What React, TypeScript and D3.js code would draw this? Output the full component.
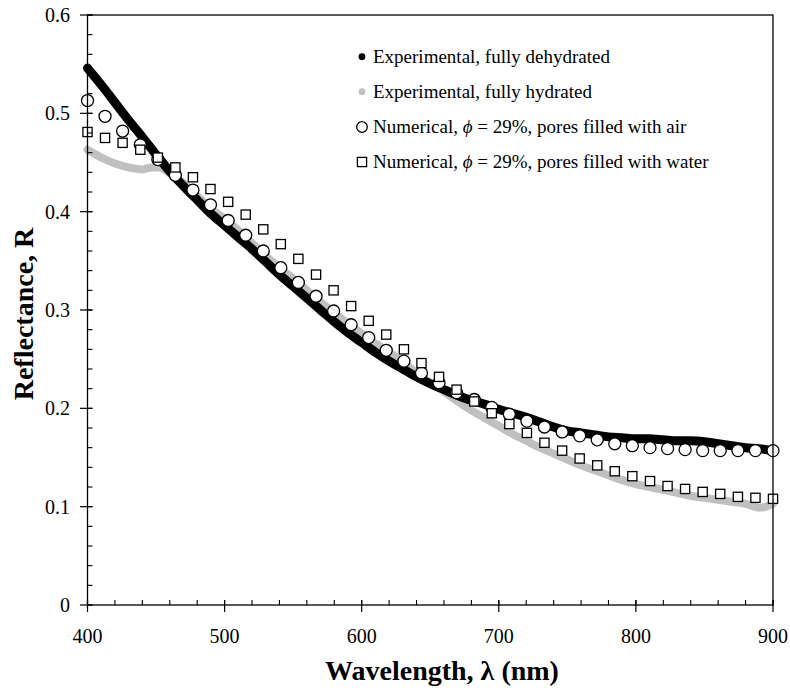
import React from "react";
import * as d3 from "d3";

// Experimental, fully dehydrated (wavelength nm, reflectance)
const dehydWl = [400, 410, 420, 430, 440, 450, 460, 470, 480, 490, 500, 510, 520, 530, 540, 550, 560, 570, 580, 590, 600, 610, 620, 630, 640, 650, 660, 670, 680, 690, 700, 710, 720, 730, 740, 750, 760, 770, 780, 790, 800, 810, 820, 830, 840, 850, 860, 870, 880, 890, 900];
const dehydR = [0.546, 0.529, 0.511, 0.493, 0.476, 0.458, 0.441, 0.426, 0.412, 0.398, 0.386, 0.374, 0.362, 0.349, 0.336, 0.324, 0.312, 0.300, 0.288, 0.277, 0.267, 0.257, 0.248, 0.240, 0.232, 0.225, 0.219, 0.213, 0.208, 0.204, 0.199, 0.195, 0.191, 0.186, 0.181, 0.177, 0.175, 0.173, 0.171, 0.170, 0.169, 0.169, 0.168, 0.167, 0.167, 0.166, 0.164, 0.162, 0.160, 0.159, 0.157];

// Experimental, fully hydrated
const hydWl = [400, 405, 410, 420, 430, 440, 447, 453, 458, 465, 470, 480, 490, 500, 510, 520, 530, 540, 550, 560, 570, 580, 590, 600, 610, 620, 630, 640, 650, 660, 670, 680, 690, 700, 710, 720, 730, 740, 750, 760, 770, 780, 790, 800, 810, 820, 830, 840, 850, 860, 870, 880, 890, 895, 900];
const hydR = [0.463, 0.459, 0.455, 0.449, 0.445, 0.443, 0.445, 0.445, 0.441, 0.434, 0.429, 0.416, 0.403, 0.393, 0.381, 0.368, 0.355, 0.343, 0.332, 0.320, 0.308, 0.297, 0.286, 0.276, 0.266, 0.257, 0.247, 0.236, 0.226, 0.217, 0.207, 0.198, 0.190, 0.182, 0.174, 0.167, 0.160, 0.154, 0.148, 0.142, 0.137, 0.132, 0.127, 0.123, 0.120, 0.117, 0.114, 0.111, 0.109, 0.107, 0.105, 0.103, 0.099, 0.100, 0.103];

// Numerical wavelengths
const numWl = [400, 412.8, 425.6, 438.5, 451.3, 464.1, 476.9, 489.7, 502.6, 515.4, 528.2, 541.0, 553.8, 566.7, 579.5, 592.3, 605.1, 617.9, 630.8, 643.6, 656.4, 669.2, 682.1, 694.9, 707.7, 720.5, 733.3, 746.2, 759.0, 771.8, 784.6, 797.4, 810.3, 823.1, 835.9, 848.7, 861.5, 874.4, 887.2, 900];
// Numerical, pores filled with air
const airR = [0.513, 0.497, 0.482, 0.468, 0.453, 0.437, 0.422, 0.407, 0.391, 0.376, 0.360, 0.343, 0.328, 0.314, 0.299, 0.285, 0.272, 0.259, 0.248, 0.236, 0.226, 0.216, 0.209, 0.201, 0.194, 0.187, 0.181, 0.176, 0.172, 0.168, 0.164, 0.162, 0.160, 0.159, 0.158, 0.157, 0.157, 0.157, 0.157, 0.157];
// Numerical, pores filled with water
const waterR = [0.481, 0.475, 0.470, 0.463, 0.455, 0.445, 0.435, 0.423, 0.410, 0.397, 0.382, 0.367, 0.352, 0.336, 0.320, 0.304, 0.289, 0.275, 0.260, 0.246, 0.232, 0.219, 0.207, 0.195, 0.184, 0.175, 0.165, 0.157, 0.149, 0.142, 0.136, 0.131, 0.126, 0.121, 0.118, 0.115, 0.113, 0.110, 0.109, 0.108];

const xMajor = [400, 500, 600, 700, 800, 900];
const yMajor = [0, 0.1, 0.2, 0.3, 0.4, 0.5, 0.6];
const yTickLabels = ["0", "0.1", "0.2", "0.3", "0.4", "0.5", "0.6"];

const legendLabels = [
  "Experimental, fully dehydrated",
  "Experimental, fully hydrated",
  "Numerical, ",
  "Numerical, ",
];

const FONT = "'Liberation Serif', 'Times New Roman', serif";
const GRAY = "#c0c0c0";

export default function App() {
  const left = 87.5, right = 773, top = 15, bottom = 605;
  const x = d3.scaleLinear().domain([400, 900]).range([left, right]);
  const y = d3.scaleLinear().domain([0, 0.6]).range([bottom, top]);

  const mkLine = d3
    .line<[number, number]>()
    .x((d) => x(d[0]))
    .y((d) => y(d[1]))
    .curve(d3.curveMonotoneX);

  const dehydPath = mkLine(dehydWl.map((w, i) => [w, dehydR[i]] as [number, number])) || "";
  const hydPath = mkLine(hydWl.map((w, i) => [w, hydR[i]] as [number, number])) || "";

  const xMinor = d3.range(400, 901, 20);
  const yMinor = d3.range(0, 0.6001, 0.02);

  const legX = 362, legTextX = 373;
  const legY = [56.7, 91.7, 127, 162];

  return (
    <svg
      width={790}
      height={690}
      style={{ position: "absolute", left: 0, top: 0, background: "#fff" }}
      fontFamily={FONT}
    >
      <rect x={0} y={0} width={790} height={690} fill="#fff" />
      {/* data */}
      <path d={hydPath} fill="none" stroke={GRAY} strokeWidth={8} strokeLinecap="round" strokeLinejoin="round" />
      <path d={dehydPath} fill="none" stroke="#000" strokeWidth={9} strokeLinecap="round" strokeLinejoin="round" />
      {numWl.map((w, i) => (
        <circle key={"a" + i} cx={x(w)} cy={y(airR[i])} r={6} fill="#fff" stroke="#000" strokeWidth={1.3} />
      ))}
      {numWl.map((w, i) => (
        <rect key={"w" + i} x={x(w) - 4.6} y={y(waterR[i]) - 4.6} width={9.2} height={9.2} fill="#fff" stroke="#000" strokeWidth={1.3} />
      ))}

      {/* frame */}
      <rect x={left} y={top} width={right - left} height={bottom - top} fill="none" stroke="#000" strokeWidth={1.3} />
      {/* y ticks */}
      {yMinor.map((v, i) => (
        <line key={"ym" + i} x1={left} x2={left + 5} y1={y(v)} y2={y(v)} stroke="#000" strokeWidth={1.1} />
      ))}
      {yMajor.map((v, i) => (
        <g key={"yM" + i}>
          <line x1={left - 7.5} x2={left + 5} y1={y(v)} y2={y(v)} stroke="#000" strokeWidth={1.2} />
          <text x={70} y={y(v)} dy="0.35em" textAnchor="end" fontSize={20}>
            {yTickLabels[i]}
          </text>
        </g>
      ))}
      {/* x ticks */}
      {xMinor.map((v, i) => (
        <line key={"xm" + i} x1={x(v)} x2={x(v)} y1={bottom} y2={bottom - 5} stroke="#000" strokeWidth={1.1} />
      ))}
      {xMajor.map((v, i) => (
        <g key={"xM" + i}>
          <line x1={x(v)} x2={x(v)} y1={bottom - 5} y2={bottom + 7} stroke="#000" strokeWidth={1.2} />
          <text x={x(v)} y={643} textAnchor="middle" fontSize={20}>
            {String(v)}
          </text>
        </g>
      ))}

      {/* axis titles */}
      <text x={442} y={680} textAnchor="middle" fontSize={28} fontWeight="bold">
        Wavelength, λ (nm)
      </text>
      <text
        transform={`translate(32.5,314) rotate(-90)`}
        textAnchor="middle"
        fontSize={28}
        fontWeight="bold"
      >
        Reflectance, R
      </text>

      {/* legend */}
      <circle cx={legX} cy={legY[0]} r={3.4} fill="#000" />
      <circle cx={legX} cy={legY[1]} r={3.4} fill={GRAY} />
      <circle cx={legX} cy={legY[2]} r={5.3} fill="#fff" stroke="#000" strokeWidth={1.3} />
      <rect x={legX - 4.6} y={legY[3] - 4.6} width={9.2} height={9.2} fill="#fff" stroke="#000" strokeWidth={1.3} />
      <text x={legTextX} y={legY[0]} dy="0.33em" fontSize={19}>{legendLabels[0]}</text>
      <text x={legTextX} y={legY[1]} dy="0.33em" fontSize={19}>{legendLabels[1]}</text>
      <text x={legTextX} y={legY[2]} dy="0.33em" fontSize={19}>
        {legendLabels[2]}
        <tspan fontStyle="italic">ϕ</tspan>
        {" = 29%, pores filled with air"}
      </text>
      <text x={legTextX} y={legY[3]} dy="0.33em" fontSize={19}>
        {legendLabels[3]}
        <tspan fontStyle="italic">ϕ</tspan>
        {" = 29%, pores filled with water"}
      </text>
    </svg>
  );
}
